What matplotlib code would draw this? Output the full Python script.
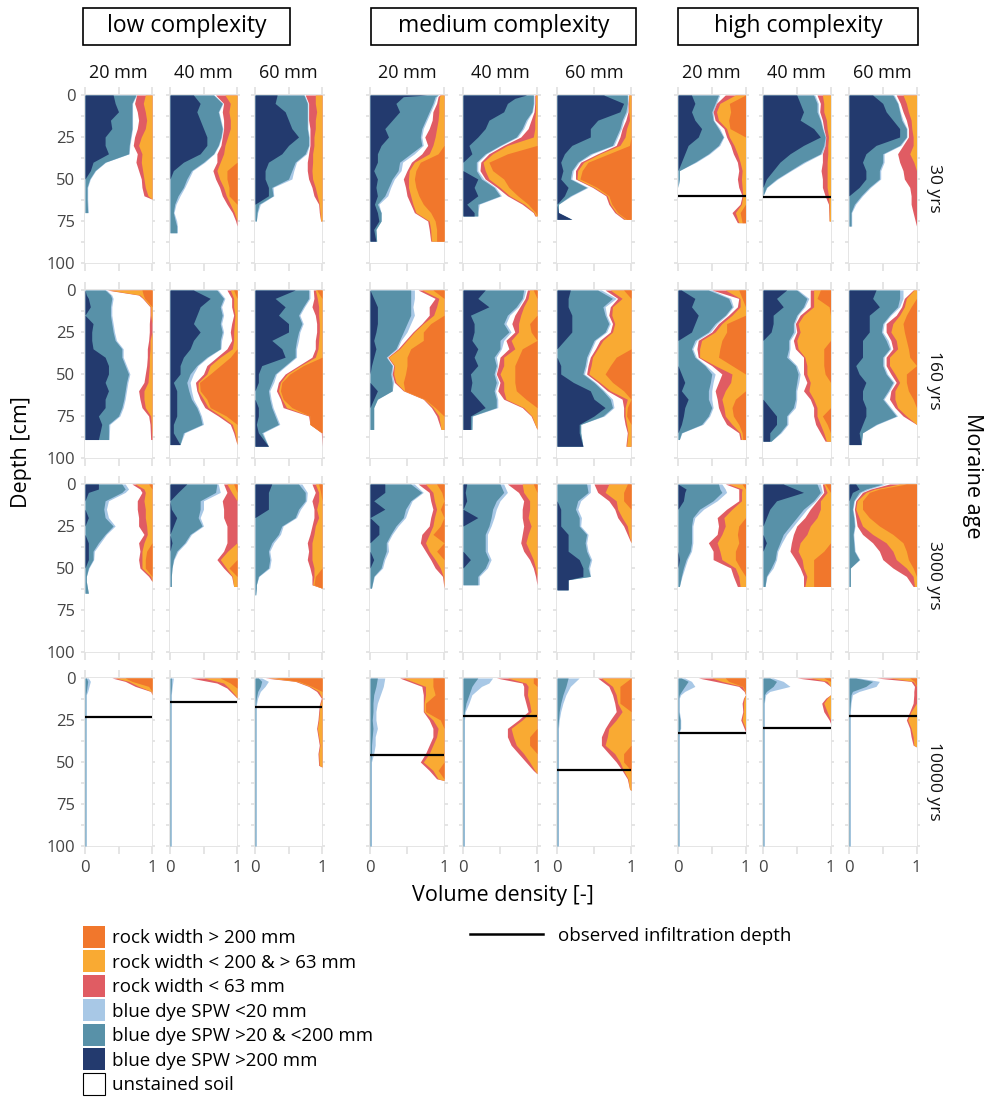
import numpy as np
import matplotlib
matplotlib.use("Agg")
import matplotlib.pyplot as plt
from matplotlib.patches import Rectangle, Patch
from matplotlib.lines import Line2D

plt.rcParams['font.family'] = ['Open Sans', 'DejaVu Sans']

ages = ['30 yrs', '160 yrs', '3000 yrs', '10000 yrs']
complexities = ['low complexity', 'medium complexity', 'high complexity']
widths = ['20 mm', '40 mm', '60 mm']

# profile rows: depth [cm], cumulative right edge of SPW>200, SPW 20-200, SPW<20,
# then left edge of rock<63, rock 63-200, rock>200 (rock>200 runs to 1)
low20_30 = [(0, .42, .76, .77, .77, .90, 1), (5, .45, .70, .71, .74, .87, 1), (10, .50, .70, .71, .78, .90, 1),
            (15, .38, .70, .71, .80, .92, 1), (20, .40, .70, .71, .78, .90, 1), (25, .30, .68, .69, .74, .84, 1),
            (30, .30, .66, .67, .72, .80, 1), (35, .35, .65, .66, .78, .85, 1), (40, .12, .30, .31, .76, .84, 1),
            (45, .08, .15, .16, .80, .86, 1), (50, 0, .07, .08, .84, .88, 1), (55, 0, .03, .04, .85, .90, 1),
            (60, 0, .03, .04, .88, .94, 1), (62, 0, .03, .04, 1, 1, 1), (70, 0, .04, .05, 1, 1, 1)]
low40_30 = [(0, .35, .65, .66, .68, .82, 1), (5, .45, .78, .79, .80, .90, 1), (10, .40, .72, .73, .78, .88, 1),
            (15, .45, .75, .76, .80, .90, 1), (20, .50, .78, .79, .80, .90, 1), (25, .55, .76, .77, .78, .86, 1),
            (30, .55, .72, .73, .76, .82, 1), (35, .45, .65, .66, .70, .80, 1), (40, .20, .50, .52, .70, .75, 1),
            (45, .05, .32, .34, .64, .70, .85), (50, 0, .25, .28, .68, .74, .85), (55, 0, .20, .22, .74, .80, .88),
            (60, 0, .12, .15, .78, .84, .88), (65, 0, .07, .09, .85, .90, 1), (70, 0, .05, .06, .93, .96, 1),
            (75, 0, .08, .10, .98, 1, 1), (78, 0, .10, .11, 1, 1, 1), (82, 0, .10, .11, 1, 1, 1)]
low60_30 = [(0, .33, .73, .74, .75, .90, 1), (5, .30, .78, .79, .80, .90, 1), (10, .45, .78, .79, .80, .92, 1),
            (15, .50, .78, .79, .80, .90, 1), (20, .55, .78, .79, .82, .90, 1), (25, .65, .80, .81, .82, .88, 1),
            (30, .50, .80, .81, .82, .88, 1), (35, .40, .75, .77, .80, .86, 1), (40, .20, .60, .62, .78, .86, 1),
            (45, .15, .55, .58, .78, .85, 1), (50, .15, .50, .55, .80, .86, 1), (55, .20, .25, .27, .85, .90, 1),
            (60, .20, .27, .28, .88, .93, 1), (65, 0, .06, .08, .95, .96, 1), (70, 0, .03, .04, .96, .97, 1),
            (75, 0, .02, .02, .98, .98, 1)]
med20_30 = [(0, .77, .92, .93, .94, .95, 1), (1, .45, .88, .90, .92, .94, 1), (5, .35, .85, .87, .90, .93, 1),
            (10, .40, .80, .82, .85, .93, 1),
            (15, .30, .75, .77, .84, .92, 1), (20, .20, .70, .72, .80, .90, 1), (25, .25, .68, .70, .74, .88, 1),
            (30, .15, .70, .72, .78, .85, 1), (35, .10, .55, .60, .70, .80, .92), (40, .10, .40, .44, .56, .60, .68),
            (45, .05, .38, .42, .50, .53, .62), (50, .10, .30, .33, .45, .52, .60), (55, .08, .25, .28, .48, .52, .62),
            (60, .10, .20, .24, .50, .55, .66), (65, .06, .10, .12, .55, .58, .72), (70, .10, .15, .15, .60, .62, .82),
            (75, .12, .15, .15, .78, .80, .88), (80, .05, .08, .08, .80, .82, .90), (87, .08, .09, .09, .82, .83, .90)]
med40_30 = [(0, .86, .95, .96, .97, .98, 1), (2, .70, .95, .96, .97, .98, 1), (5, .60, .95, .96, .97, .98, 1),
            (10, .55, .93, .94, .96, .98, 1),
            (15, .35, .85, .87, .92, .97, 1), (20, .30, .80, .82, .88, .97, 1), (25, .20, .72, .74, .78, .95, 1),
            (30, .08, .50, .52, .55, .60, 1), (35, .12, .30, .32, .35, .40, .60), (40, 0, .18, .20, .24, .27, .35),
            (45, 0, .18, .20, .23, .30, .40), (50, .20, .25, .28, .30, .35, .55), (55, .15, .42, .44, .46, .50, .62),
            (60, .20, .50, .52, .60, .63, .74), (65, .05, .20, .22, .80, .83, .88), (70, .15, .20, .20, .95, .96, .98),
            (72, .15, .20, .20, .97, .98, 1)]
med60_30 = [(0, .63, .95, .96, .97, .97, 1), (5, .90, .95, .96, .96, .97, 1), (10, .85, .93, .95, .96, .97, 1),
            (15, .55, .88, .90, .93, .98, 1), (20, .45, .85, .87, .88, .94, 1), (25, .45, .80, .82, .85, .92, 1),
            (30, .20, .75, .77, .80, .85, .98), (35, .10, .45, .48, .55, .58, .70), (40, .05, .28, .30, .32, .36, .42),
            (45, .08, .20, .22, .25, .28, .34), (50, .05, .18, .20, .25, .27, .31), (55, .15, .40, .42, .48, .50, .54),
            (60, .10, .18, .20, .66, .68, .70), (65, 0, .02, .02, .70, .72, .74), (70, .02, .02, .02, .78, .80, .82),
            (74, .20, .20, .20, .90, .92, .94)]
high20_30 = [(0, .20, .60, .62, .70, .85, 1), (5, .25, .55, .57, .57, .62, .76), (10, .20, .50, .52, .52, .57, .78),
             (15, .25, .52, .53, .55, .60, .75), (20, .35, .60, .62, .68, .72, .77), (25, .30, .67, .68, .72, .76, 1),
             (30, .15, .60, .62, .78, .83, 1), (35, .10, .45, .47, .82, .88, 1), (40, .05, .25, .27, .88, .92, 1),
             (45, 0, .02, .02, .90, .95, 1), (50, 0, .02, .02, .88, .94, 1), (55, 0, 0, 0, .90, .95, 1),
             (60, 0, 0, 0, .95, .96, 1), (65, 0, 0, 0, .92, .94, 1), (70, 0, 0, 0, .80, .85, .92),
             (76, 0, 0, 0, .88, .90, .95)]
high40_30 = [(0, .50, .75, .77, .80, .88, 1), (5, .55, .80, .82, .85, .90, 1), (10, .60, .80, .82, .84, .90, 1),
             (15, .55, .85, .86, .88, .94, 1), (20, .75, .88, .89, .90, .95, 1), (25, .85, .92, .93, .93, .97, 1),
             (30, .60, .90, .92, .92, .96, 1), (35, .40, .85, .87, .88, .96, 1), (40, .25, .60, .63, .88, .95, 1),
             (45, .15, .40, .42, .86, .95, 1), (50, .05, .20, .22, .88, .95, 1), (55, 0, .05, .06, .88, .95, 1),
             (60, 0, 0, 0, .92, .97, 1), (65, 0, 0, 0, .97, .98, 1), (75, 0, 0, 0, .98, .98, 1)]
high60_30 = [(0, .35, .65, .67, .70, .80, 1), (5, .50, .72, .73, .76, .85, 1), (10, .55, .75, .76, .80, .88, 1),
             (15, .65, .78, .80, .85, .92, 1), (20, .75, .85, .86, .88, .93, 1), (25, .75, .85, .86, .88, .95, 1),
             (30, .40, .75, .77, .80, .95, 1), (35, .25, .50, .52, .72, .90, 1), (40, .20, .50, .52, .75, .96, 1),
             (45, .25, .45, .47, .80, 1, 1), (50, .25, .45, .47, .82, 1, 1), (55, .15, .30, .32, .90, 1, 1),
             (60, 0, .18, .20, .92, 1, 1), (65, 0, .08, .10, .92, 1, 1), (70, 0, .03, .04, .95, 1, 1),
             (78, 0, .03, .04, 1, 1, 1)]

low20_160 = [(0, 0, .30, .32, .32, .35, .85), (3, .02, .38, .40, .80, .82, .87), (5, .05, .40, .42, .86, .87, .89),
             (10, .08, .38, .40, .97, .98, 1), (15, 0, .38, .40, .97, .98, 1), (20, .12, .40, .42, .96, 1, 1),
             (25, .10, .42, .44, .96, 1, 1), (30, .10, .45, .47, .95, .97, 1), (35, .12, .55, .57, .93, .97, 1),
             (40, .30, .55, .57, .93, .96, 1), (45, .35, .60, .62, .92, .96, 1), (50, .35, .65, .67, .90, .95, 1),
             (55, .30, .62, .64, .88, .94, 1), (60, .35, .60, .62, .80, .88, 1), (65, .30, .58, .60, .82, .88, 1),
             (70, .30, .55, .57, .85, .90, 1), (75, .20, .50, .52, .95, .98, 1), (80, .25, .35, .37, .97, .99, 1),
             (89, .20, .35, .36, .98, 1, 1)]
low40_160 = [(0, .35, .70, .72, .85, .90, .95), (5, .60, .80, .82, .92, .95, 1), (10, .45, .75, .77, .92, .95, 1),
             (15, .40, .78, .80, .95, .97, 1), (20, .35, .75, .77, .92, .96, 1), (25, .45, .78, .80, .90, .95, 1),
             (30, .35, .75, .77, .92, .95, 1), (35, .30, .75, .76, .85, .93, 1), (40, .20, .55, .57, .70, .75, .90),
             (45, .15, .40, .42, .55, .60, .75), (50, .15, .30, .35, .50, .55, .60), (55, .05, .25, .30, .38, .42, .44),
             (60, .10, .28, .32, .40, .42, .45), (65, .10, .32, .35, .45, .50, .55), (70, .10, .40, .42, .52, .57, .60),
             (75, .10, .45, .47, .72, .76, .84), (80, .05, .48, .50, .90, .93, 1), (85, .05, .20, .22, .95, .97, 1),
             (92, .15, .15, .15, 1, 1, 1)]
low60_160 = [(0, .60, .80, .82, .87, .90, .92), (5, .30, .80, .82, .88, .93, 1), (10, .45, .72, .74, .85, .95, 1),
             (15, .35, .65, .67, .90, .95, 1), (20, .50, .70, .72, .92, .96, 1), (25, .50, .65, .67, .92, .96, 1),
             (30, .25, .62, .65, .90, .95, 1), (35, .40, .60, .62, .90, .94, 1), (40, .45, .60, .62, .85, .90, 1),
             (45, .10, .45, .47, .65, .68, .72), (50, .05, .30, .32, .45, .48, .52), (55, .05, .25, .28, .35, .38, .40),
             (60, 0, .20, .22, .32, .35, .38), (65, 0, .22, .24, .38, .40, .42), (70, .05, .25, .27, .42, .47, .55),
             (75, .05, .30, .32, .80, .82, .82), (80, .02, .35, .37, .82, .82, .82), (85, .05, .10, .12, .99, 1, 1),
             (93, .20, .20, .20, 1, 1, 1)]
med20_160 = [(0, 0, .55, .60, .65, .70, .85), (5, .05, .55, .60, .88, .93, 1), (10, .10, .55, .58, .80, .90, 1),
             (15, .10, .55, .60, .80, .86, 1), (20, .10, .50, .55, .70, .72, .82), (25, .08, .45, .50, .58, .60, .72),
             (30, .05, .40, .42, .48, .50, .72), (35, .08, .35, .37, .38, .40, .55), (40, .05, .22, .23, .24, .25, .50),
             (45, .02, .30, .31, .32, .33, .50), (50, 0, .28, .30, .30, .32, .48), (55, 0, .30, .32, .33, .35, .45),
             (60, .10, .30, .30, .45, .46, .47), (65, .05, .10, .10, .72, .73, .74), (70, 0, .05, .05, .83, .85, .88),
             (75, 0, .05, .05, .90, .93, 1), (83, 0, .05, .05, .96, .96, 1)]
med40_160 = [(0, .30, .82, .85, .87, .90, .95), (5, .20, .80, .82, .84, .88, 1), (10, .35, .72, .75, .77, .82, 1),
             (15, .10, .60, .63, .70, .78, 1), (20, .15, .55, .58, .66, .75, .90), (25, .15, .62, .65, .70, .75, .92),
             (30, .12, .50, .55, .58, .65, 1), (35, .20, .50, .52, .62, .70, .80), (40, .15, .42, .45, .50, .55, .75),
             (45, .20, .45, .47, .48, .55, .70), (50, .10, .42, .44, .45, .50, .70), (55, .12, .45, .48, .50, .55, .70),
             (60, .10, .42, .44, .47, .55, .72), (65, .20, .45, .47, .55, .58, .85), (70, .30, .45, .47, .80, .82, 1),
             (75, .10, .12, .13, .92, .93, 1), (83, .10, .12, .12, 1, 1, 1)]
med60_160 = [(0, .18, .55, .60, .65, .72, .90), (5, .15, .75, .80, .82, .88, 1), (10, .15, .62, .65, .72, .75, 1),
             (15, .20, .65, .67, .70, .74, 1), (20, .20, .70, .72, .75, .78, 1), (25, .20, .65, .67, .72, .75, 1),
             (30, .10, .50, .52, .58, .62, 1), (35, 0, .45, .47, .52, .55, 1), (40, 0, .40, .42, .45, .48, .80),
             (45, .05, .38, .40, .42, .46, .72), (50, .05, .35, .37, .40, .43, .65), (55, .22, .50, .52, .55, .58, .75),
             (60, .45, .62, .64, .68, .72, .90), (65, .50, .72, .75, .88, .95, 1), (70, .65, .75, .77, .90, .92, .95),
             (75, .50, .62, .64, .90, .92, .94), (80, .30, .32, .32, .92, .94, 1), (85, .30, .32, .32, .95, .96, 1),
             (93, .35, .35, .35, .93, .94, 1)]
high20_160 = [(0, .05, .45, .50, .50, .70, .90), (5, .25, .75, .78, .90, .92, .95), (10, .20, .80, .82, .88, .92, 1),
              (15, .30, .70, .72, .75, .80, 1), (20, .25, .55, .58, .60, .65, .72), (25, .20, .45, .48, .50, .55, .72),
              (30, 0, .25, .28, .30, .35, .65), (35, 0, .20, .22, .28, .32, .62), (40, 0, .25, .27, .30, .32, .60),
              (45, 0, .40, .42, .50, .55, .80), (50, .05, .50, .55, .65, .80, 1), (55, .10, .48, .52, .60, .78, 1),
              (60, .05, .45, .50, .55, .70, 1), (65, .15, .45, .50, .58, .65, .85), (70, .10, .50, .52, .60, .68, .80),
              (75, .08, .45, .47, .65, .70, .82), (80, .05, .35, .37, .72, .80, .90), (85, 0, .05, .06, .90, .92, .95),
              (89, 0, .02, .02, .92, .94, .96)]
high40_160 = [(0, .35, .50, .52, .70, .75, .85), (5, .20, .65, .68, .70, .75, .80), (10, .30, .60, .62, .70, .75, .98),
              (15, .15, .50, .52, .55, .60, 1), (20, .15, .45, .47, .48, .52, 1), (25, .12, .45, .48, .50, .55, 1),
              (30, 0, .38, .40, .45, .50, 1), (35, 0, .38, .40, .48, .52, .90), (40, 0, .35, .38, .60, .62, .90),
              (45, 0, .48, .50, .60, .65, .90), (50, 0, .52, .55, .60, .65, .92), (55, 0, .50, .53, .65, .70, 1),
              (60, 0, .48, .50, .60, .68, 1), (65, 0, .48, .50, .70, .75, 1), (70, .10, .45, .48, .75, .80, 1),
              (75, .20, .35, .37, .75, .80, .88), (80, .20, .35, .37, .78, .85, .95), (85, .10, .25, .27, .85, .90, 1),
              (90, .10, .12, .12, .92, .94, 1)]
high60_160 = [(0, .40, .75, .80, .95, .96, 1), (5, .35, .75, .80, .82, .85, 1), (10, .45, .72, .75, .78, .82, .92),
              (15, .30, .60, .62, .70, .75, .85), (20, .30, .50, .52, .55, .65, .80), (25, .30, .48, .50, .55, .62, .82),
              (30, .20, .55, .58, .62, .70, .85), (35, .20, .60, .62, .65, .72, .88), (40, .20, .50, .52, .55, .60, .90),
              (45, .10, .50, .52, .55, .60, 1), (50, .15, .55, .57, .62, .68, .85), (55, .25, .65, .67, .70, .75, .85),
              (60, .20, .58, .60, .62, .68, .88), (65, .20, .50, .52, .60, .68, .95), (70, .25, .60, .62, .68, .72, 1),
              (75, .25, .70, .72, .80, .85, 1), (80, .20, .40, .42, 1, 1, 1), (85, .15, .20, .20, 1, 1, 1),
              (92, .18, .18, .18, 1, 1, 1)]

low20_3000 = [(0, .20, .55, .60, .70, .75, .95), (3, .20, .60, .65, .82, .88, 1), (5, .05, .55, .60, .85, .90, 1),
              (10, 0, .30, .35, .78, .88, 1), (15, 0, .28, .32, .78, .90, 1), (20, .05, .30, .35, .80, .90, 1),
              (25, 0, .42, .45, .80, .92, 1), (30, 0, .30, .32, .88, .93, 1), (35, .05, .20, .23, .80, .88, 1),
              (40, .05, .12, .14, .82, .85, .92), (45, .05, .12, .13, .80, .85, .90), (50, 0, .05, .06, .82, .85, .90),
              (55, 0, .02, .02, .95, .98, 1), (58, 0, .02, .02, 1, 1, 1), (65, 0, .05, .05, 1, 1, 1)]
low40_3000 = [(0, .25, .70, .72, .80, .85, .95), (5, .12, .68, .75, .85, .92, 1), (10, 0, .45, .50, .78, 1, 1),
              (15, .02, .45, .50, .80, 1, 1), (20, .10, .42, .45, .80, 1, 1), (25, .05, .48, .50, .85, 1, 1),
              (30, 0, .30, .32, .85, 1, 1), (35, .03, .22, .24, .85, 1, 1), (40, 0, .10, .12, .80, .86, 1),
              (45, 0, .05, .06, .70, .75, 1), (50, 0, .03, .03, .80, .84, .88), (55, 0, .02, .02, .92, .93, 1),
              (61, 0, .02, .02, .95, .95, 1)]
low60_3000 = [(0, .25, .65, .70, .85, .90, .95), (5, .20, .75, .78, .90, .95, .98), (10, .20, .75, .77, .85, .95, 1),
              (15, .20, .65, .68, .88, .92, 1), (20, 0, .60, .62, .88, .95, 1), (25, 0, .40, .42, .85, .90, 1),
              (30, 0, .35, .38, .82, .88, 1), (35, 0, .25, .28, .78, .85, 1), (40, 0, .20, .22, .80, .85, 1),
              (45, 0, .22, .24, .78, .85, 1), (50, 0, .20, .22, .82, .88, 1), (55, 0, .05, .06, .85, .88, .90),
              (60, 0, .02, .02, .85, .86, .88), (62, 0, .02, .02, 1, 1, 1), (66, 0, .01, .01, 1, 1, 1)]
med20_3000 = [(0, .20, .55, .60, .65, .75, .90), (5, .20, .70, .72, .80, .85, .97), (10, .05, .55, .57, .82, .87, 1),
              (15, .20, .48, .52, .85, .90, .95), (20, 0, .45, .48, .82, .87, 1), (25, .12, .35, .38, .80, .85, .95),
              (30, .12, .28, .30, .70, .80, .85), (35, 0, .22, .24, .68, .75, 1), (40, 0, .22, .25, .75, .80, .90),
              (45, .05, .18, .20, .82, .88, 1), (50, 0, .15, .17, .88, .95, 1), (55, 0, .05, .06, .98, .99, 1),
              (62, 0, .02, .02, 1, 1, 1)]
med40_3000 = [(0, .05, .50, .55, .60, .80, .95), (5, .03, .55, .60, .75, .82, 1), (10, .05, .45, .50, .82, .90, 1),
              (15, 0, .40, .45, .80, .90, 1), (20, .20, .38, .42, .80, .88, 1), (25, 0, .35, .38, .82, .92, 1),
              (30, 0, .30, .33, .80, .88, 1), (35, 0, .30, .33, .78, .85, 1), (40, 0, .30, .33, .82, .90, 1),
              (45, .10, .35, .38, .90, .95, 1), (50, 0, .30, .33, .95, .98, 1), (55, 0, .20, .22, .98, 1, 1),
              (60, 0, .20, .22, 1, 1, 1)]
med60_3000 = [(0, 0, .40, .45, .50, .70, .95), (5, 0, .42, .45, .55, .65, .90), (10, 0, .28, .32, .70, .80, .90),
              (15, .05, .25, .28, .78, .82, 1), (20, .05, .30, .33, .82, .88, 1), (25, .05, .30, .32, .90, .95, 1),
              (30, .15, .40, .42, .95, .97, 1), (35, .15, .38, .40, 1, 1, 1), (40, .15, .40, .42, 1, 1, 1),
              (45, .30, .45, .47, 1, 1, 1), (50, .35, .42, .44, 1, 1, 1), (55, .35, .45, .45, 1, 1, 1),
              (57, .15, .15, .15, 1, 1, 1), (63, .15, .15, .15, 1, 1, 1)]
high20_3000 = [(0, 0, .60, .65, .70, .75, .95), (3, .12, .62, .70, .90, .95, 1), (5, .10, .65, .72, .90, .94, 1),
               (10, .08, .52, .58, .90, .94, 1), (15, 0, .32, .38, .72, .80, 1), (20, 0, .22, .25, .58, .68, 1),
               (25, 0, .20, .22, .60, .70, .90), (30, 0, .20, .22, .58, .65, .88), (35, 0, .20, .22, .45, .58, .90),
               (40, 0, .18, .20, .52, .62, .85), (45, .02, .12, .14, .52, .65, .85), (50, 0, .08, .10, .78, .85, .92),
               (55, 0, .05, .06, .82, .90, 1), (61, 0, .02, .02, .88, .92, 1)]
high40_3000 = [(0, .30, .80, .85, .88, .90, .92), (5, .60, .85, .88, .90, .95, 1), (10, .20, .75, .78, .80, .85, 1),
               (15, .10, .60, .65, .70, .85, 1), (20, .05, .50, .55, .62, .80, 1), (25, 0, .40, .45, .50, .70, 1),
               (30, 0, .30, .35, .45, .65, 1), (35, .05, .25, .28, .42, .55, 1), (40, 0, .20, .22, .40, .52, .90),
               (45, 0, .18, .20, .48, .58, .75), (50, 0, .12, .15, .55, .60, .75), (55, 0, .05, .06, .60, .65, .75),
               (61, 0, .03, .03, .60, .62, .75)]
high60_3000 = [(0, .10, .50, .55, .60, .75, .85), (3, .15, .25, .30, .32, .38, .45), (5, .05, .15, .18, .20, .25, .30),
               (10, 0, .07, .08, .10, .12, .20), (15, 0, .05, .06, .08, .10, .20), (20, 0, .07, .08, .10, .15, .30),
               (25, 0, .08, .09, .12, .20, .45), (30, 0, .06, .07, .20, .35, .65), (35, 0, .07, .08, .35, .55, .80),
               (40, 0, .08, .09, .45, .65, .85), (45, 0, .15, .16, .50, .70, .88), (50, 0, .02, .02, .65, .85, .95),
               (55, 0, .02, .02, .85, .95, 1), (61, 0, .02, .02, .95, .97, 1)]

low20_10000 = [(0, 0, .02, .05, .40, .45, .60), (2, 0, .04, .08, .60, .65, .70), (5, 0, .03, .06, .75, .80, .95),
               (8, 0, .02, .04, .98, .99, 1), (10, 0, .01, .02, 1, 1, 1), (100, 0, .01, .02, 1, 1, 1)]
low40_10000 = [(0, 0, .02, .05, .30, .50, .75), (3, 0, .02, .04, .70, .80, .90), (6, 0, .02, .03, .85, .88, 1),
               (10, 0, .01, .02, .95, .97, 1), (12, 0, .01, .02, 1, 1, 1), (100, 0, .01, .02, 1, 1, 1)]
low60_10000 = [(0, 0, .05, .10, .15, .20, .30), (2, 0, .10, .20, .60, .62, .65), (5, 0, .08, .15, .80, .82, .85),
               (8, 0, .04, .08, .92, .95, 1), (12, 0, .02, .04, .99, 1, 1), (16, 0, .01, .02, .96, .97, 1),
               (25, 0, .01, .02, .94, .95, 1), (30, 0, .01, .02, .92, .93, 1), (40, 0, .01, .02, .96, .97, 1),
               (45, 0, .01, .02, .94, .95, 1), (52, 0, .01, .02, .95, .96, 1), (53, 0, .01, .02, 1, 1, 1),
               (100, 0, .01, .02, 1, 1, 1)]
med20_10000 = [(0, 0, .10, .20, .40, .45, .85), (5, 0, .08, .18, .70, .75, .85), (10, 0, .05, .14, .72, .75, .88),
               (15, 0, .04, .10, .72, .73, .75), (20, 0, .04, .08, .72, .73, .75), (25, 0, .03, .08, .80, .85, .95),
               (30, 0, .04, .10, .85, .92, 1), (35, 0, .03, .07, .85, .90, 1), (40, 0, .02, .07, .80, .85, 1),
               (45, 0, .02, .05, .75, .80, 1), (50, 0, .01, .02, .68, .72, 1), (55, 0, .01, .02, .80, .85, .92),
               (60, 0, .01, .02, .90, .92, 1), (61, 0, .01, .02, 1, 1, 1), (100, 0, .01, .02, 1, 1, 1)]
med40_10000 = [(0, 0, .20, .40, .45, .60, .95), (3, 0, .15, .35, .80, .85, .95), (5, 0, .12, .25, .82, .88, 1),
               (10, 0, .08, .12, .82, .87, 1), (15, 0, .04, .08, .85, .90, 1), (20, 0, .02, .03, .88, .92, 1),
               (25, 0, .01, .02, .75, .80, 1), (30, 0, .01, .02, .60, .65, 1), (35, 0, .01, .02, .60, .68, .90),
               (40, 0, .01, .02, .65, .72, .90), (45, 0, .01, .02, .75, .82, 1), (50, 0, .01, .02, .85, .90, 1),
               (55, 0, .01, .02, .95, .97, 1), (57, 0, .01, .02, 1, 1, 1), (100, 0, .01, .02, 1, 1, 1)]
med60_10000 = [(0, 0, .15, .30, .55, .60, 1), (5, 0, .12, .18, .70, .75, .85), (10, 0, .08, .12, .75, .80, .85),
               (15, 0, .05, .08, .78, .82, .85), (20, 0, .03, .05, .80, .88, 1), (25, 0, .02, .03, .72, .80, 1),
               (30, 0, .01, .02, .65, .70, 1), (35, 0, .01, .02, .60, .68, 1), (40, 0, .01, .02, .60, .65, 1),
               (45, 0, .01, .02, .70, .78, .90), (50, 0, .01, .02, .80, .85, .90), (55, 0, .01, .02, .88, .90, 1),
               (60, 0, .01, .02, .95, .96, 1), (66, 0, .01, .02, .98, .98, 1), (67, 0, .01, .02, 1, 1, 1),
               (100, 0, .01, .02, 1, 1, 1)]
high20_10000 = [(0, 0, .05, .10, .30, .50, .70), (2, 0, .15, .20, .55, .65, .75), (5, 0, .10, .25, .90, .95, .96),
                (8, 0, .05, .10, .98, .99, 1), (10, 0, .02, .04, 1, 1, 1), (12, 0, .01, .02, .97, .98, 1),
                (15, 0, .01, .02, .95, .97, 1), (20, 0, .01, .02, .96, .97, 1), (25, 0, .03, .04, .93, .95, 1),
                (30, 0, .03, .04, .98, 1, 1), (32, 0, .01, .02, 1, 1, 1), (100, 0, .01, .02, 1, 1, 1)]
high40_10000 = [(0, 0, .10, .15, .50, .70, .90), (2, 0, .20, .30, .90, .95, 1), (5, 0, .15, .40, 1, 1, 1),
                (8, 0, .05, .10, 1, 1, 1), (10, 0, .02, .04, 1, 1, 1), (12, 0, .02, .03, .93, .95, 1),
                (15, 0, .01, .02, .87, .90, 1), (20, 0, .01, .02, .90, .95, 1), (25, 0, .01, .02, .98, 1, 1),
                (27, 0, .01, .02, 1, 1, 1), (100, 0, .01, .02, 1, 1, 1)]
high60_10000 = [(0, 0, .10, .15, .40, .60, .90), (2, 0, .35, .45, .92, .95, .97), (5, 0, .25, .40, .97, 1, 1),
                (8, 0, .05, .15, .96, 1, 1), (10, 0, .03, .05, .96, 1, 1), (15, 0, .02, .03, .95, 1, 1),
                (20, 0, .01, .02, .90, .92, 1), (25, 0, .01, .02, .85, .87, 1), (30, 0, .01, .02, .90, .92, 1),
                (35, 0, .01, .02, .92, .95, 1), (40, 0, .01, .02, .95, .96, 1), (41, 0, .01, .02, 1, 1, 1),
                (100, 0, .01, .02, 1, 1, 1)]

profiles = [
    [low20_30, low40_30, low60_30, med20_30, med40_30, med60_30, high20_30, high40_30, high60_30],
    [low20_160, low40_160, low60_160, med20_160, med40_160, med60_160, high20_160, high40_160, high60_160],
    [low20_3000, low40_3000, low60_3000, med20_3000, med40_3000, med60_3000, high20_3000, high40_3000, high60_3000],
    [low20_10000, low40_10000, low60_10000, med20_10000, med40_10000, med60_10000,
     high20_10000, high40_10000, high60_10000],
]
# observed infiltration depth [cm]
infiltration = [
    [None, None, None, None, None, None, 60, 61, None],
    [None] * 9,
    [None] * 9,
    [23.5, 14, 17, 46, 22.7, 55, 33, 30, 22.7],
]

c_navy, c_teal, c_light = '#233a6e', '#5891a8', '#a8c8e6'
c_red, c_yellow, c_orange = '#e05c63', '#f9aa33', '#f1772c'
grid_c = '#e3e3e3'

W, H = 984, 1099
fig = plt.figure(figsize=(W / 100, H / 100), dpi=100)

# panel placement in pixels: x of value 0, pixels per unit, y of depth 0
col_x0 = [85, 170, 255, 370, 463, 557, 678, 763, 849]
col_unit = [67, 67, 67, 74, 74, 74, 67.5, 67.5, 67.5]
row_y0 = [95, 290, 484, 678]
strip_y = [188, 380, 575, 781]
cm_px = 1.68

for i in range(4):
    for j in range(9):
        left = col_x0[j] - 0.06 * col_unit[j]
        wid = 1.11 * col_unit[j]
        top = row_y0[i] - 5 * cm_px
        hei = 110 * cm_px
        ax = fig.add_axes([left / W, 1 - (top + hei) / H, wid / W, hei / H])
        ax.set_xlim(-0.06, 1.05)
        ax.set_ylim(105, -5)
        ax.set_xticks([0, 0.5, 1])
        ax.set_yticks([0, 25, 50, 75, 100])
        ax.set_yticks([12.5, 37.5, 62.5, 87.5], minor=True)
        ax.grid(True, which='both', color=grid_c, lw=1.3)
        ax.set_axisbelow(True)
        ax.tick_params(which='both', length=0, labelsize=12, colors='#444444', pad=4)
        for s in ax.spines.values():
            s.set_visible(False)
        if j == 0:
            ax.set_yticklabels(['0', '25', '50', '75', '100'])
        else:
            ax.set_yticklabels([])
        if i == 3:
            ax.set_xticklabels(['0', '', '1'])
        else:
            ax.set_xticklabels([])
        ax.add_patch(Rectangle((0, 0), 1, 100, facecolor='white', edgecolor='none', zorder=1))

        p = np.array(profiles[i][j], dtype=float)
        d = p[:, 0]
        ax.fill_betweenx(d, 0, p[:, 3], color=c_light, lw=0, zorder=2)
        ax.fill_betweenx(d, 0, p[:, 2], color=c_teal, lw=0, zorder=2)
        ax.fill_betweenx(d, 0, p[:, 1], color=c_navy, lw=0, zorder=2)
        ax.fill_betweenx(d, p[:, 4], 1, color=c_red, lw=0, zorder=2)
        ax.fill_betweenx(d, p[:, 5], 1, color=c_yellow, lw=0, zorder=2)
        ax.fill_betweenx(d, p[:, 6], 1, color=c_orange, lw=0, zorder=2)

        if infiltration[i][j] is not None:
            ax.hlines(infiltration[i][j], 0, 1, color='black', lw=1.6, zorder=3)

        if i == 0:
            ax.text(0.5, -13, widths[j % 3], ha='center', va='center', fontsize=13, color='#111111')

    fig.text(934 / W, 1 - strip_y[i] / H, ages[i], rotation=270, ha='center', va='center',
             fontsize=12.5, color='#111111')

# complexity header boxes
boxes = [(83, 290), (371, 636), (678, 918)]
for (x0, x1), name in zip(boxes, complexities):
    fig.add_artist(Rectangle((x0 / W, 1 - 45 / H), (x1 - x0) / W, 37 / H, transform=fig.transFigure,
                             facecolor='white', edgecolor='black', lw=1.2))
    fig.text((x0 + x1) / 2 / W, 1 - 26.5 / H, name, ha='center', va='center', fontsize=16.5)

fig.text(22 / W, 1 - 452 / H, 'Depth [cm]', rotation=90, ha='center', va='center', fontsize=15.5)
fig.text(973 / W, 1 - 476 / H, 'Moraine age', rotation=270, ha='center', va='center', fontsize=15.5)
fig.text(503 / W, 1 - 895 / H, 'Volume density [-]', ha='center', va='center', fontsize=15.5)

# legends
handles = [Patch(facecolor=c_orange, edgecolor='none'), Patch(facecolor=c_yellow, edgecolor='none'),
           Patch(facecolor=c_red, edgecolor='none'), Patch(facecolor=c_light, edgecolor='none'),
           Patch(facecolor=c_teal, edgecolor='none'), Patch(facecolor=c_navy, edgecolor='none'),
           Patch(facecolor='white', edgecolor='black', lw=0.8)]
labels = ['rock width > 200 mm', 'rock width < 200 & > 63 mm', 'rock width < 63 mm',
          'blue dye SPW <20 mm', 'blue dye SPW >20 & <200 mm', 'blue dye SPW >200 mm', 'unstained soil']
fig.legend(handles, labels, loc='upper left', bbox_to_anchor=(83 / W, 1 - 926 / H), frameon=False,
           fontsize=13.5, handlelength=1.17, handleheight=1.43, handletextpad=0.4,
           labelspacing=0.13, borderpad=0, borderaxespad=0)
fig.legend([Line2D([], [], color='black', lw=1.8)], ['observed infiltration depth'], loc='upper left',
           bbox_to_anchor=(470 / W, 1 - 927 / H), frameon=False, fontsize=13.5, handlelength=3.9,
           handletextpad=0.8, borderpad=0, borderaxespad=0)

fig.savefig('out.png', dpi=100)
